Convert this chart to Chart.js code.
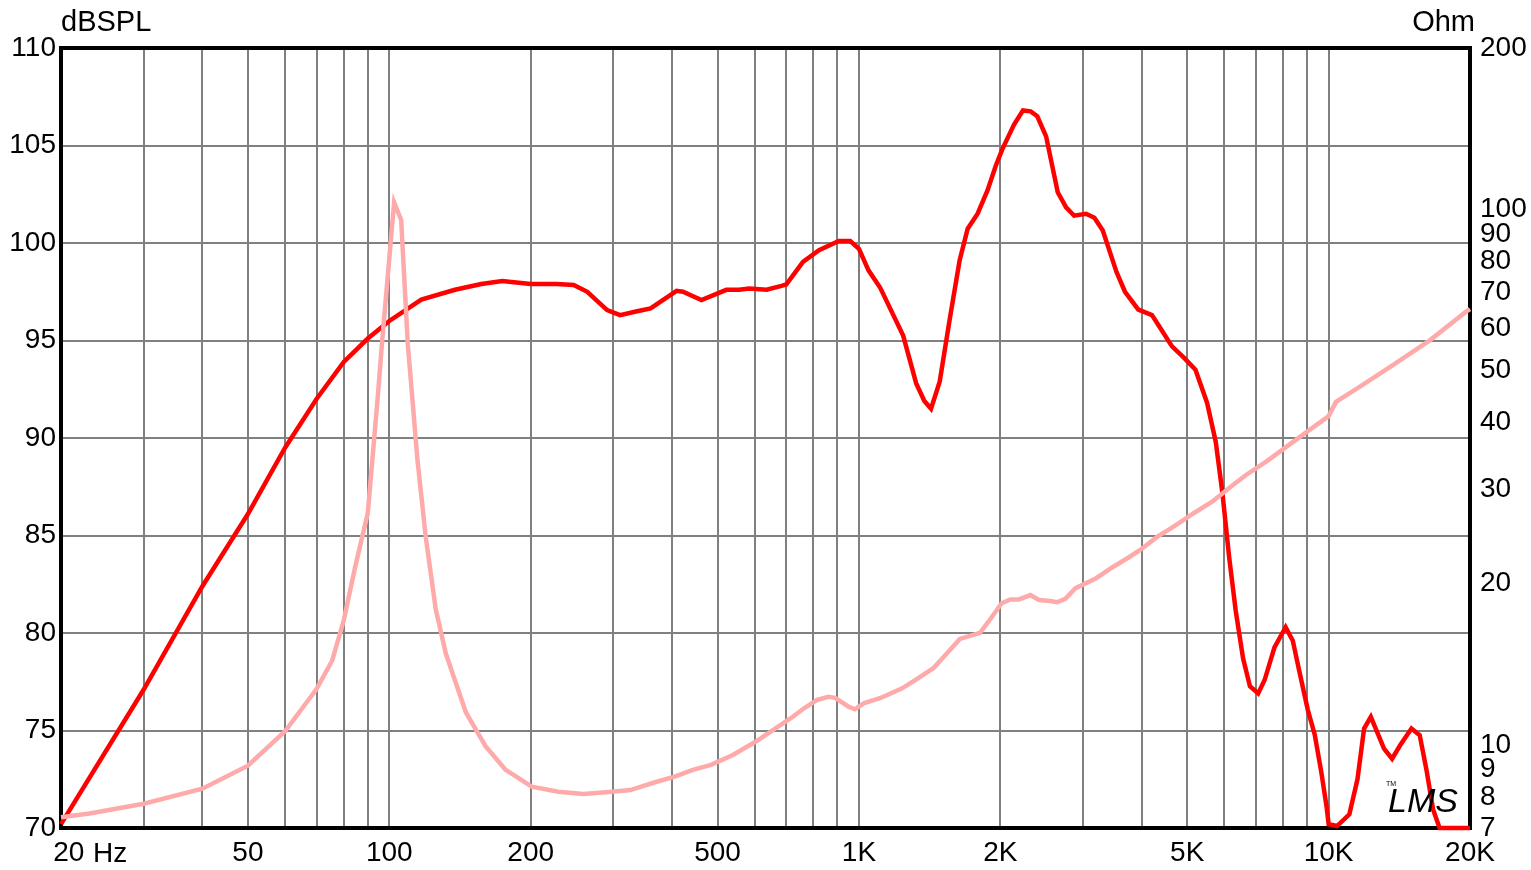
<!DOCTYPE html>
<html>
<head>
<meta charset="utf-8">
<script src="https://cdn.jsdelivr.net/npm/chart.js@4/dist/chart.umd.min.js"></script>
<style>
  html, body { margin: 0; padding: 0; background: #fff; }
  canvas { display: block; }
</style>
</head>
<body>
<canvas id="chart" width="1531" height="870"></canvas>
<script>
// SPL response (Hz, dB)
const splFreq = [20, 30, 40, 50, 60, 70, 80, 90, 100, 117, 138, 157, 174, 200, 227, 247, 264, 291, 310, 337, 360, 409, 422, 462, 522, 556, 584, 636, 684, 700, 760, 822, 906, 958, 1000, 1048, 1110, 1242, 1324, 1378, 1424, 1486, 1560, 1638, 1704, 1789, 1878, 1955, 2019, 2139, 2235, 2320, 2397, 2503, 2650, 2761, 2872, 3044, 3172, 3305, 3536, 3685, 3934, 4206, 4381, 4640, 4918, 5206, 5512, 5751, 5940, 6140, 6340, 6574, 6800, 7080, 7310, 7668, 8100, 8390, 8660, 9030, 9340, 9650, 9900, 10000, 10420, 11070, 11520, 11900, 12300, 13120, 13650, 14200, 15010, 15630, 16150, 16690, 17230, 20000];
const splDb = [70.2, 77.1, 82.4, 86.1, 89.5, 92.0, 93.9, 95.1, 96.0, 97.1, 97.6, 97.9, 98.05, 97.9, 97.9, 97.85, 97.5, 96.56, 96.3, 96.5, 96.65, 97.55, 97.5, 97.07, 97.6, 97.6, 97.67, 97.6, 97.8, 97.87, 99.03, 99.63, 100.1, 100.1, 99.7, 98.6, 97.7, 95.25, 92.8, 91.9, 91.5, 92.9, 96.07, 99.1, 100.73, 101.5, 102.7, 103.95, 104.8, 106.07, 106.8, 106.75, 106.5, 105.47, 102.6, 101.83, 101.4, 101.5, 101.3, 100.64, 98.5, 97.5, 96.58, 96.3, 95.64, 94.7, 94.12, 93.5, 91.8, 89.8, 87.2, 83.9, 81.16, 78.7, 77.27, 76.9, 77.6, 79.26, 80.3, 79.6, 78.05, 76.06, 74.8, 72.85, 71.1, 70.2, 70.1, 70.7, 72.5, 75.1, 75.7, 74.07, 73.55, 74.24, 75.1, 74.76, 73.0, 70.95, 70.0, 70.0];

// impedance (Hz, Ohm)
const impFreq = [20, 23, 30, 40, 50, 60, 70, 75.6, 80, 84.6, 90, 94.6, 96.6, 102.4, 106, 109.5, 114.8, 119.6, 125.6, 132, 145.6, 160.3, 176.6, 201, 229, 259, 298, 326, 371, 405, 443, 484, 539, 602, 657, 716, 764, 815, 861, 890, 950, 980, 1026, 1112, 1236, 1320, 1440, 1540, 1640, 1752, 1810, 1910, 2013, 2100, 2192, 2317, 2418, 2554, 2641, 2750, 2892, 3200, 3440, 3772, 3970, 4320, 4678, 5160, 5650, 6256, 6670, 7364, 8140, 9000, 9620, 10000, 10370, 11660, 13700, 16450, 19620, 20000];
const impOhm = [7.33, 7.45, 7.77, 8.29, 9.15, 10.61, 12.72, 14.38, 17.09, 21.5, 27.1, 45.1, 57, 103, 95.5, 56, 34.1, 24.4, 17.9, 14.8, 11.5, 9.95, 9.0, 8.36, 8.18, 8.1, 8.18, 8.24, 8.54, 8.73, 8.99, 9.18, 9.58, 10.14, 10.67, 11.22, 11.71, 12.14, 12.3, 12.25, 11.79, 11.66, 11.97, 12.24, 12.76, 13.23, 13.91, 14.84, 15.78, 16.05, 16.2, 17.24, 18.39, 18.7, 18.7, 19.05, 18.65, 18.57, 18.47, 18.75, 19.62, 20.48, 21.38, 22.46, 23.12, 24.49, 25.56, 27.08, 28.46, 30.57, 31.92, 33.8, 36.05, 38.45, 40.1, 41.1, 43.7, 46.65, 51.2, 57.0, 64.4, 65.1];

// axes
const freqGrid = [20, 30, 40, 50, 60, 70, 80, 90, 100, 200, 300, 400, 500, 600, 700, 800, 900, 1000, 2000, 3000, 4000, 5000, 6000, 7000, 8000, 9000, 10000, 20000];
const freqLabelValues = [20, 50, 100, 200, 500, 1000, 2000, 5000, 10000, 20000];
const freqLabelText = ["  20", "50", "100", "200", "500", "1K", "2K", "5K", "10K", "20K"];
const splTicks = [70, 75, 80, 85, 90, 95, 100, 105, 110];
const ohmTicks = [7, 8, 9, 10, 20, 30, 40, 50, 60, 70, 80, 90, 100, 200];

const FONT = "'Liberation Sans', Arial, sans-serif";
Chart.defaults.font.family = FONT;
Chart.defaults.color = "#000";

// frame goes under the curves, text on top
const frame = {
    id: "frame",
    beforeDatasetsDraw(chart) {
        const { ctx, chartArea: a } = chart;
        ctx.save();
        ctx.strokeStyle = "#000";
        ctx.lineWidth = 4;
        ctx.strokeRect(a.left, a.top, a.right - a.left, a.bottom - a.top);
        ctx.restore();
    },
    afterDraw(chart) {
        const { ctx, chartArea: a } = chart;
        ctx.save();
        ctx.fillStyle = "#000";
        ctx.font = "29px " + FONT;
        ctx.textBaseline = "alphabetic";
        ctx.textAlign = "left";
        ctx.fillText("dBSPL", a.left, 31);
        ctx.textAlign = "right";
        ctx.fillText("Ohm", a.right + 5, 31);
        ctx.font = "28px " + FONT;
        ctx.textAlign = "left";
        ctx.fillText("Hz", 93, 862);

        // LMS mark
        ctx.font = "italic 34px " + FONT;
        ctx.fillText("LMS", 1388, 812);
        ctx.font = "7px " + FONT;
        ctx.fillText("TM", 1386, 786);
        ctx.restore();
    }
};

new Chart(document.getElementById("chart"), {
    type: "line",
    data: {
        datasets: [
            {
                label: "Impedance",
                data: impFreq.map((f, i) => ({ x: f, y: impOhm[i] })),
                yAxisID: "y1",
                borderColor: "#ffaaaa",
                borderWidth: 4.5,
                pointRadius: 0,
                tension: 0,
                clip: 6,
                order: 1
            },
            {
                label: "SPL",
                data: splFreq.map((f, i) => ({ x: f, y: splDb[i] })),
                yAxisID: "y",
                borderColor: "#ff0000",
                borderWidth: 4.5,
                pointRadius: 0,
                tension: 0,
                clip: 6,
                order: 2
            }
        ]
    },
    options: {
        responsive: false,
        devicePixelRatio: 1,
        animation: false,
        layout: { padding: { top: 48, left: 0, right: 0, bottom: 0 } },
        plugins: {
            legend: { display: false },
            tooltip: { enabled: false }
        },
        scales: {
            x: {
                type: "logarithmic",
                position: "bottom",
                min: 20,
                max: 20000,
                afterBuildTicks: s => { s.ticks = freqGrid.map(v => ({ value: v })); },
                afterFit: s => { s.height = 42; },
                border: { display: false },
                grid: { color: "#808080", lineWidth: 2, drawTicks: false },
                ticks: {
                    autoSkip: false,
                    maxRotation: 0,
                    padding: 8,
                    font: { size: 28 },
                    callback: v => {
                        const k = freqLabelValues.indexOf(v);
                        return k >= 0 ? freqLabelText[k] : "";
                    }
                }
            },
            y: {
                type: "linear",
                position: "left",
                min: 70,
                max: 110,
                afterBuildTicks: s => { s.ticks = splTicks.map(v => ({ value: v })); },
                afterFit: s => { s.width = 61; },
                border: { display: false },
                grid: { color: "#808080", lineWidth: 2, drawTicks: false },
                ticks: { padding: 5, font: { size: 28 } }
            },
            y1: {
                type: "logarithmic",
                position: "right",
                min: 7,
                max: 200,
                afterBuildTicks: s => { s.ticks = ohmTicks.map(v => ({ value: v })); },
                afterFit: s => { s.width = 61; },
                border: { display: false },
                grid: { display: false, drawTicks: false },
                ticks: { padding: 10, font: { size: 28 }, callback: v => String(v) }
            }
        }
    },
    plugins: [frame]
});
</script>
</body>
</html>
